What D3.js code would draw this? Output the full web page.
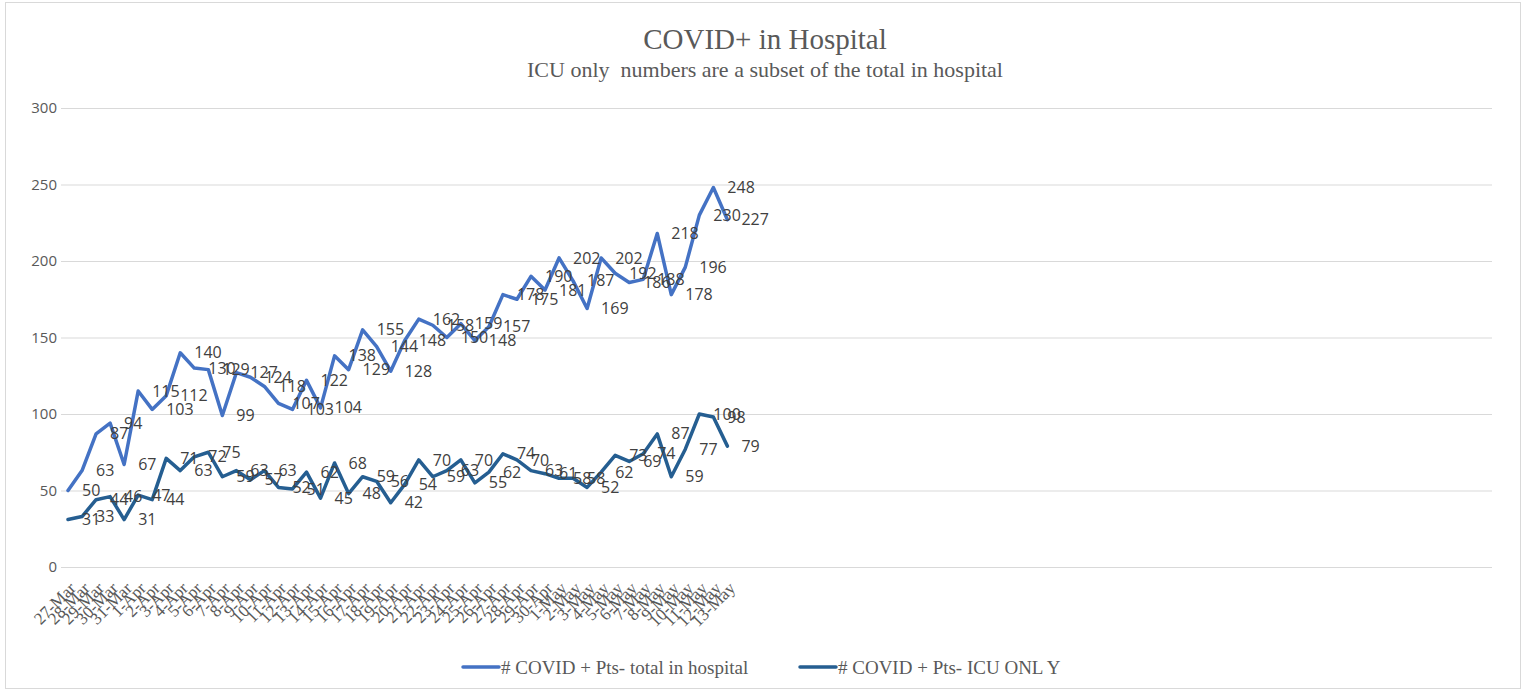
<!DOCTYPE html>
<html>
<head>
<meta charset="utf-8">
<script src="https://cdn.jsdelivr.net/npm/d3@7"></script>
<style>
  body { margin: 0; background: white; }
</style>
</head>
<body>
<svg id="plot"></svg>
<script>
// Data
const dates = ['27-Mar','28-Mar','29-Mar','30-Mar','31-Mar',
  '1-Apr','2-Apr','3-Apr','4-Apr','5-Apr','6-Apr','7-Apr','8-Apr','9-Apr','10-Apr',
  '11-Apr','12-Apr','13-Apr','14-Apr','15-Apr','16-Apr','17-Apr','18-Apr','19-Apr','20-Apr',
  '21-Apr','22-Apr','23-Apr','24-Apr','25-Apr','26-Apr','27-Apr','28-Apr','29-Apr','30-Apr',
  '1-May','2-May','3-May','4-May','5-May','6-May','7-May','8-May','9-May','10-May',
  '11-May','12-May','13-May'];

const totalInHospital = [50, 63, 87, 94, 67, 115, 103, 112, 140, 130, 129, 99, 127, 124, 118, 107,
  103, 122, 104, 138, 129, 155, 144, 128, 148, 162, 158, 150, 159, 148, 157, 178,
  175, 190, 181, 202, 187, 169, 202, 192, 186, 188, 218, 178, 196, 230, 248, 227];

const icuOnly = [31, 33, 44, 46, 31, 47, 44, 71, 63, 72, 75, 59, 63, 57, 63, 52,
  51, 62, 45, 68, 48, 59, 56, 42, 54, 70, 59, 63, 70, 55, 62, 74,
  70, 63, 61, 58, 58, 52, 62, 73, 69, 74, 87, 59, 77, 100, 98, 79];

const yTicks = [0, 50, 100, 150, 200, 250, 300];
const seriesNames = ['# COVID + Pts- total in hospital', '# COVID + Pts- ICU ONL Y'];
const seriesColors = ['#4472c4', '#255e91'];

// Dimensions
let width = 1527, height = 694;
let margin = { top: 108, bottom: 127, left: 61, right: 35 };
// the category axis has room for more days than were filled in
const slots = 102;

let svg = d3.select('#plot')
  .attr('width', width)
  .attr('height', height)
  .style('background', 'white');

// outer frame
svg.append('rect')
  .attr('x', 5.5).attr('y', 2.5)
  .attr('width', 1515).attr('height', 686)
  .attr('fill', 'none')
  .attr('stroke', '#d9d9d9');

// Scales
let xScale = d3.scaleLinear()
  .domain([0, slots])
  .range([margin.left, width - margin.right]);

let yScale = d3.scaleLinear()
  .domain([0, 300])
  .range([height - margin.bottom, margin.top]);

const xPos = i => xScale(i + 0.5);

// Y axis + gridlines
let yAxis = svg.append('g')
  .attr('transform', `translate(${margin.left}, 0)`)
  .call(d3.axisLeft(yScale)
    .tickValues(yTicks)
    .tickSize(-(width - margin.right - margin.left))
    .tickPadding(4));

yAxis.select('.domain').remove();
yAxis.selectAll('.tick line').attr('stroke', '#d9d9d9').attr('stroke-width', 1);
yAxis.selectAll('.tick text')
  .attr('x', -4)
  .style('font-family', '"Open Sans", "Liberation Sans", sans-serif')
  .style('font-size', '15px')
  .attr('fill', '#595959');

// X axis labels (rotated)
let xAxis = svg.append('g')
  .attr('transform', `translate(0, ${height - margin.bottom})`)
  .call(d3.axisBottom(xScale)
    .tickValues(d3.range(dates.length).map(i => i + 0.5))
    .tickSize(0)
    .tickFormat((d, i) => dates[i]));

xAxis.select('.domain').remove();
xAxis.selectAll('.tick text')
  .style('font-family', '"Liberation Serif", "Times New Roman", serif')
  .style('font-size', '17px')
  .attr('fill', '#595959')
  .attr('text-anchor', 'end')
  .attr('dy', '0.35em')
  .attr('transform', 'translate(2, 16) rotate(-45)');

// Lines
const line = d3.line()
  .x((d, i) => xPos(i))
  .y(d => yScale(d));

[totalInHospital, icuOnly].forEach(function(values, k) {
  svg.append('path')
    .datum(values)
    .attr('fill', 'none')
    .attr('stroke', seriesColors[k])
    .attr('stroke-width', 3.5)
    .attr('stroke-linejoin', 'round')
    .attr('stroke-linecap', 'round')
    .attr('d', line);
});

// Data labels
[totalInHospital, icuOnly].forEach(function(values) {
  svg.append('g')
    .selectAll('text')
    .data(values)
    .enter()
    .append('text')
    .attr('x', (d, i) => xPos(i) + 14)
    .attr('y', d => yScale(d))
    .attr('dy', '0.35em')
    .style('font-family', '"Open Sans", "Liberation Sans", sans-serif')
    .style('font-size', '16px')
    .attr('fill', '#404040')
    .text(d => d);
});

// Title
svg.append('text')
  .attr('x', 765).attr('y', 49)
  .attr('text-anchor', 'middle')
  .style('font-family', '"Liberation Serif", "Times New Roman", serif')
  .style('font-size', '29px')
  .attr('fill', '#595959')
  .text('COVID+ in Hospital');

svg.append('text')
  .attr('x', 765).attr('y', 77)
  .attr('text-anchor', 'middle')
  .style('font-family', '"Liberation Serif", "Times New Roman", serif')
  .style('font-size', '22px')
  .style('white-space', 'pre')
  .attr('fill', '#595959')
  .text('ICU only  numbers are a subset of the total in hospital');

// Legend
const legendX = [463, 800];
seriesNames.forEach(function(name, k) {
  let g = svg.append('g').attr('transform', `translate(${legendX[k]}, 667)`);
  g.append('line')
    .attr('x1', 0).attr('x2', 36)
    .attr('stroke', seriesColors[k])
    .attr('stroke-width', 3.5)
    .attr('stroke-linecap', 'round');
  g.append('text')
    .attr('x', 38).attr('dy', '0.35em')
    .style('font-family', '"Liberation Serif", "Times New Roman", serif')
    .style('font-size', '19px')
    .attr('fill', '#595959')
    .text(name);
});
</script>
</body>
</html>
